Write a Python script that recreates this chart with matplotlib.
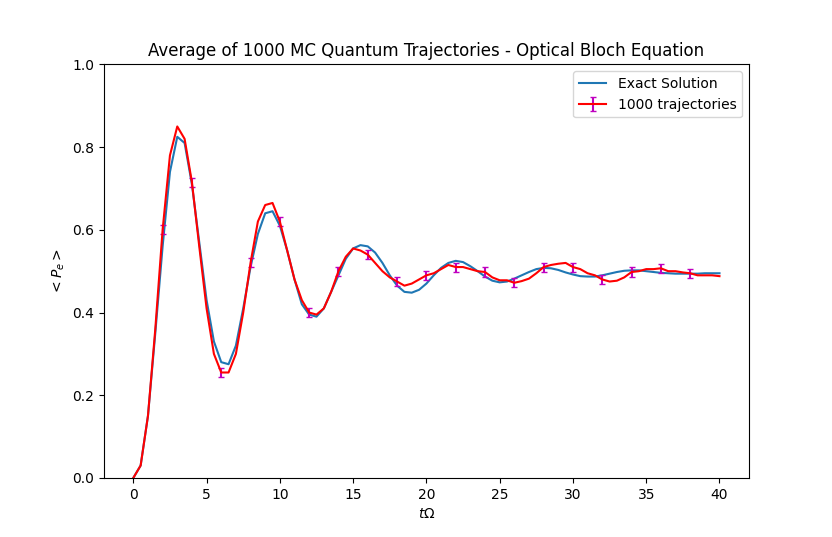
import numpy as np
import matplotlib
matplotlib.use("Agg")
import matplotlib.pyplot as plt

t = np.arange(0, 40.01, 0.5)
exact = [0,0.03,0.15,0.35,0.56,0.74,0.825,0.81,0.71,0.57,0.43,0.33,0.28,0.275,0.32,0.41,0.51,0.59,0.64,0.645,
         0.61,0.55,0.48,0.42,0.395,0.39,0.41,0.45,0.49,0.53,0.555,0.563,0.56,0.545,0.52,0.49,0.465,0.45,0.448,0.455,
         0.47,0.49,0.508,0.52,0.525,0.522,0.512,0.5,0.487,0.477,0.473,0.475,0.482,0.49,0.498,0.505,0.508,0.507,0.503,0.497,
         0.492,0.488,0.487,0.487,0.49,0.494,0.498,0.501,0.502,0.502,0.5,0.498,0.496,0.495,0.494,0.494,0.494,0.494,0.495,0.495,0.495]
mc = [0,0.03,0.15,0.36,0.6,0.78,0.85,0.82,0.715,0.56,0.41,0.3,0.255,0.255,0.3,0.4,0.52,0.62,0.66,0.665,
      0.62,0.55,0.48,0.43,0.4,0.395,0.41,0.45,0.5,0.535,0.555,0.55,0.54,0.52,0.5,0.485,0.475,0.465,0.47,0.48,
      0.49,0.495,0.505,0.515,0.51,0.51,0.505,0.5,0.498,0.485,0.478,0.478,0.472,0.476,0.482,0.495,0.51,0.515,0.518,0.52,
      0.51,0.505,0.495,0.49,0.48,0.475,0.477,0.485,0.498,0.5,0.505,0.505,0.507,0.5,0.5,0.497,0.495,0.49,0.49,0.49,0.488]
err = np.full(len(t), 0.011)
mask = np.array([(ti % 2 == 0) and 0 < ti < 40 for ti in t])

fig, ax = plt.subplots(figsize=(8.32, 5.37), dpi=100)
ax.plot(t, exact, label="Exact Solution")
ax.errorbar(t, mc, yerr=err, errorevery=mask, color="red", ecolor="m", capsize=2,
            label="1000 trajectories")
ax.set_ylim(0, 1)
ax.set_xlabel(r"$t\Omega$")
ax.set_ylabel(r"$<P_e>$")
ax.set_title("Average of 1000 MC Quantum Trajectories - Optical Bloch Equation")
ax.legend(loc="upper right")
fig.savefig("out.png")
